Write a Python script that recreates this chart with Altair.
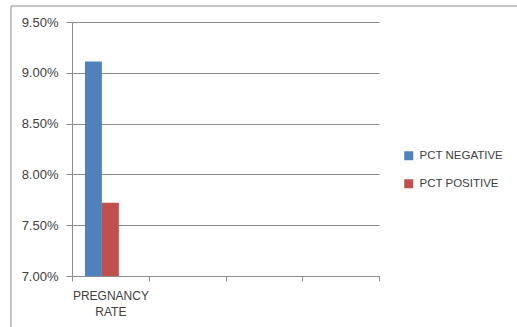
import altair as alt
import pandas as pd

categories = ["PREGNANCY RATE", " ", "  ", "   "]
series = ["PCT NEGATIVE", "PCT POSITIVE"]
values = [0.0911, 0.0772]
colors = ["#4F81BD", "#C0504D"]

df = pd.DataFrame({
    "category": [categories[0]] * len(series),
    "series": series,
    "value": values,
})

FONT = "Liberation Sans"
TXT = "#404040"
GRID = "#8C8C8C"

bars = alt.Chart(df).mark_bar(clip=True).encode(
    x=alt.X("category:N", sort=categories,
            scale=alt.Scale(domain=categories, paddingInner=0, paddingOuter=0),
            axis=alt.Axis(title=None, labelAngle=0, tickBand="extent",
                          labelExpr="split(datum.label, ' ')",
                          labelLineHeight=16, labelPadding=9, tickSize=5,
                          labelFontSize=12, labelFont=FONT, labelColor=TXT,
                          domainColor=GRID, tickColor=GRID, grid=False)),
    xOffset=alt.XOffset("series:N",
                        scale=alt.Scale(domain=series + ["_"], paddingInner=0, paddingOuter=0.765)),
    y=alt.Y("value:Q",
            scale=alt.Scale(domain=[0.07, 0.095], nice=False, zero=False),
            axis=alt.Axis(title=None, format=".2%", values=[0.07, 0.075, 0.08, 0.085, 0.09, 0.095],
                          tickSize=6, labelPadding=8, labelFontSize=13, labelFont=FONT,
                          labelColor=TXT, domainColor=GRID, tickColor=GRID,
                          gridColor=GRID, gridWidth=1)),
    color=alt.Color("series:N", scale=alt.Scale(domain=series, range=colors),
                    legend=alt.Legend(title=None, orient="none", legendX=331, legendY=128,
                                      symbolType="square", symbolSize=81, symbolStrokeWidth=0,
                                      labelFontSize=11.5, labelFont=FONT, labelColor=TXT,
                                      rowPadding=15, labelOffset=5)),
)

frame = pd.DataFrame({"k": [0]})
left = alt.Chart(frame).mark_rule(color=GRID, strokeWidth=1).encode(
    x=alt.value(-61), y=alt.value(-16), y2=alt.value(320))
top = alt.Chart(frame).mark_rule(color=GRID, strokeWidth=1).encode(
    x=alt.value(-61), x2=alt.value(460), y=alt.value(-16))

chart = alt.layer(bars, left, top).properties(
    width=307, height=254,
    autosize=alt.AutoSizeParams(type="none"),
    padding={"left": 72, "top": 22, "right": 138, "bottom": 51},
    background="white",
).configure_view(stroke=None)

chart.save("out.html", embed_options={"renderer": "svg", "actions": False})
